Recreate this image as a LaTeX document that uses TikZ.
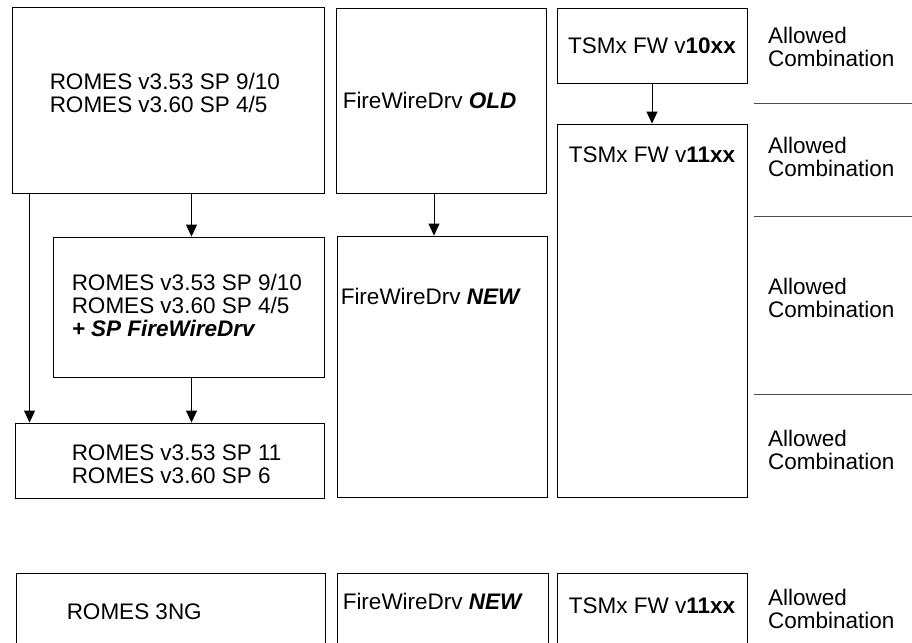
\documentclass[tikz,border=0pt]{standalone}
\usepackage{fontspec}
\setmainfont{Liberation Sans}
\usetikzlibrary{arrows.meta,positioning,calc}
\tikzset{
  verbox/.style={draw, line width=0.9pt, inner sep=0pt},
  vertext/.style={inner sep=0pt, align=left, font=\fontsize{22.5}{23}\selectfont},
  okbox/.style={inner sep=0pt, align=left, anchor=west, font=\fontsize{22.5}{23}\selectfont},
  verarrow/.style={-{Triangle[length=12pt,width=11pt]}, line width=0.9pt},
  sepline/.style={line width=0.9pt, draw=black!70}
}
\begin{document}
\begin{tikzpicture}[x=1pt, y=-1pt]
\clip (0,0) rectangle (912,642);
\fill[white] (0,0) rectangle (912,642);
% upper block
\node[verbox, minimum width=312pt, minimum height=186pt] (romesA) at (168,100) {};
\node[verbox, minimum width=271pt, minimum height=140pt] (romesB) at (188.5,307) {};
\node[verbox, minimum width=309pt, minimum height=75pt] (romesC) at (169.5,460.5) {};
\node[verbox, minimum width=210pt, minimum height=185pt] (fwOld) at (441,100.5) {};
\node[verbox, minimum width=210pt, minimum height=261pt] (fwNew) at (442,366.5) {};
\node[verbox, minimum width=190pt, minimum height=75pt] (tsmOld) at (652,45.5) {};
\node[verbox, minimum width=190pt, minimum height=373pt] (tsmNew) at (652,310.5) {};
\node[vertext, anchor=west] (tA) at ([xshift=38pt,yshift=7pt]romesA.west) {ROMES v3.53 SP 9/10\\ROMES v3.60 SP 4/5};
\node[vertext, anchor=west] (tB) at ([xshift=19pt,yshift=2pt]romesB.west) {ROMES v3.53 SP 9/10\\ROMES v3.60 SP 4/5\\\textbf{\textit{+ SP FireWireDrv}}};
\node[vertext, anchor=west] (tC) at ([xshift=57pt,yshift=-3.5pt]romesC.west) {ROMES v3.53 SP 11\\ROMES v3.60 SP 6};
\node[vertext, anchor=west] (tFwOld) at ([xshift=7pt]fwOld.west) {FireWireDrv \textbf{\textit{OLD}}};
\node[vertext, anchor=west] (tFwNew) at ([xshift=4pt,yshift=-61pt]fwNew.north west) {FireWireDrv \textbf{\textit{NEW}}};
\node[vertext] (tTsmOld) at (tsmOld) {TSMx FW v\textbf{10xx}};
\node[vertext] (tTsmNew) at ([yshift=-31pt]tsmNew.north) {TSMx FW v\textbf{11xx}};
\coordinate (tapA) at ([xshift=18pt]romesA.south west);
\coordinate (tapB) at ([xshift=3pt]romesB.north);
\draw[verarrow] (tapB |- romesA.south) -- (tapB);
\draw[verarrow] (tapB |- romesB.south) -- (tapB |- romesC.north);
\draw[verarrow] (tapA) -- (tapA |- romesC.north);
\draw[verarrow] ([xshift=-7pt]fwOld.south) -- ([xshift=-7pt]fwOld.south |- fwNew.north);
\draw[verarrow] (tsmOld.south) -- (tsmNew.north);
% lower block
\node[verbox, minimum width=309pt, minimum height=127pt] (romesNG) at (170.5,636.5) {};
\node[verbox, minimum width=211pt, minimum height=127pt] (fwNG) at (442.5,636.5) {};
\node[verbox, minimum width=190pt, minimum height=127pt] (tsmNG) at (652,637) {};
\node[vertext, anchor=west] (tNG) at ([xshift=51pt,yshift=-39pt]romesNG.north west) {ROMES 3NG};
\node[vertext, anchor=west] (tFwNG) at ([xshift=6pt,yshift=-29pt]fwNG.north west) {FireWireDrv \textbf{\textit{NEW}}};
\node[vertext] (tTsmNG) at ([yshift=-33pt]tsmNG.north) {TSMx FW v\textbf{11xx}};
% allowed column
\node[okbox] (ok1) at (768,47) {Allowed\\Combination};
\node[okbox] (ok2) at (768,157) {Allowed\\Combination};
\node[okbox] (ok3) at (768,298) {Allowed\\Combination};
\node[okbox] (ok4) at (768,450) {Allowed\\Combination};
\node[okbox] (ok5) at (768,609) {Allowed\\Combination};
\draw[sepline] (754,103) -- (912,103);
\draw[sepline] (754,216) -- (912,216);
\draw[sepline] (754,394) -- (912,394);
\end{tikzpicture}
\end{document}
